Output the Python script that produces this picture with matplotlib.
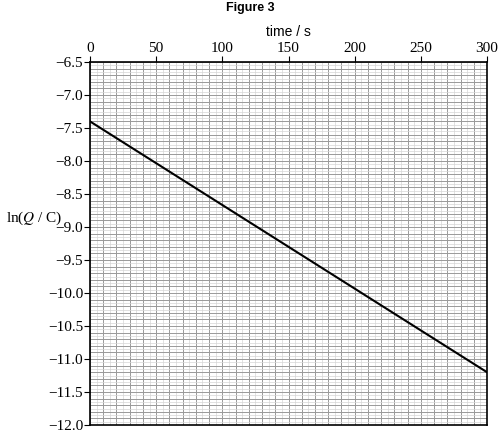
import numpy as np
import matplotlib.pyplot as plt
from matplotlib.ticker import MultipleLocator

plt.rcParams['font.family'] = ['Liberation Serif', 'DejaVu Serif']
plt.rcParams['mathtext.fontset'] = 'stix'

time_s = [0, 300]
ln_q = [-7.4, -11.2]

fig = plt.figure(figsize=(5.0, 4.36), dpi=100)
ax = fig.add_axes([90/500, 11/436, 397/500, 363/436])

ax.set_xlim(0, 300)
ax.set_ylim(-12, -6.5)
ax.xaxis.set_major_locator(MultipleLocator(50))
ax.yaxis.set_major_locator(MultipleLocator(0.5))
ax.xaxis.tick_top()
ax.xaxis.set_label_position('top')

# grid: darker every 10 s / 0.1, lighter every 5 s / 0.05
for v in np.arange(0, 301, 5):
    major = v % 10 == 0
    ax.axvline(v, color='#999999' if major else '#d6d6d6', lw=0.7 if major else 0.5, zorder=0)
for i in range(0, 111):
    v = -12 + i * 0.05
    major = i % 2 == 0
    ax.axhline(v, color='#999999' if major else '#d6d6d6', lw=0.7 if major else 0.5, zorder=0)

ax.plot(time_s, ln_q, color='black', lw=1.5)

ax.set_yticklabels([f'\u2212{abs(t):.1f}' for t in ax.get_yticks()])
ax.tick_params(which='major', length=4, labelsize=11, pad=1)
for s in ax.spines.values():
    s.set_linewidth(1.2)

ax.set_xlabel('time / s', fontsize=10, family='Liberation Sans', labelpad=4)
ax.set_ylabel(r'ln($Q$ / C)', fontsize=11, rotation=0, labelpad=0)
ax.yaxis.set_label_coords(-0.14, 0.545)
fig.text(0.5, 0.995, 'Figure 3', ha='center', va='top', fontsize=9,
         fontweight='bold', family='Liberation Sans')

fig.savefig('out.png', dpi=100)
